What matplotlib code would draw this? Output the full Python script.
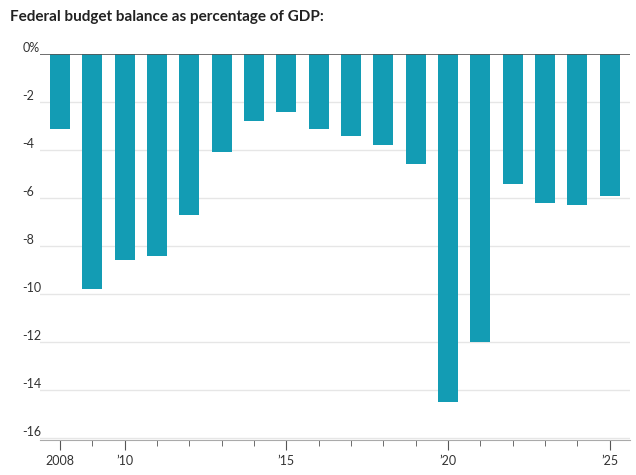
import matplotlib
matplotlib.use("Agg")
import matplotlib.pyplot as plt

years = list(range(2008, 2026))
values = [-3.1, -9.8, -8.6, -8.4, -6.7, -4.1, -2.8, -2.4, -3.1, -3.4, -3.8, -4.6,
          -14.5, -12.0, -5.4, -6.2, -6.3, -5.9]
ytick_vals = [0, -2, -4, -6, -8, -10, -12, -14, -16]
ytick_labels = ["0%", "-2", "-4", "-6", "-8", "-10", "-12", "-14", "-16"]
xtick_vals = [2008, 2010, 2015, 2020, 2025]
xtick_labels = ["2008", "’10", "’15", "’20", "’25"]

plt.rcParams['font.family'] = ['Lato', 'DejaVu Sans']
fig = plt.figure(figsize=(6.36, 4.75), dpi=100)
ax = fig.add_axes([0.063, 0.073, 0.927, 0.813])
ax.bar(years, values, width=0.62, color="#139cb4", zorder=2)
ax.set_xlim(2007.38, 2025.62)
ax.set_ylim(-16.1, 0)
for v in ytick_vals[1:]:
    ax.axhline(v, color="#e6e6e6", lw=1, zorder=1)
ax.axhline(0, color="#555555", lw=1.2, zorder=3)
ax.set_yticks(ytick_vals)
ax.set_yticklabels([])
for v, l in zip(ytick_vals, ytick_labels):
    ax.text(-0.03, v, l, transform=ax.get_yaxis_transform(), ha="left", va="bottom",
            fontsize=9, color="#333333")
ax.tick_params(axis="y", length=0)
ax.set_xticks(xtick_vals)
ax.set_xticklabels(xtick_labels, fontsize=9, color="#333333")
ax.set_xticks(years, minor=True)
ax.tick_params(axis="x", which="major", length=7, color="#555555")
ax.tick_params(axis="x", which="minor", length=4, color="#555555")
for s in ["top", "right", "left"]:
    ax.spines[s].set_visible(False)
ax.spines["bottom"].set_color("#aaaaaa")
fig.text(0.016, 0.965, "Federal budget balance as percentage of GDP:", fontsize=11,
         fontweight="bold", color="#222222", va="center")
fig.savefig("out.png")
